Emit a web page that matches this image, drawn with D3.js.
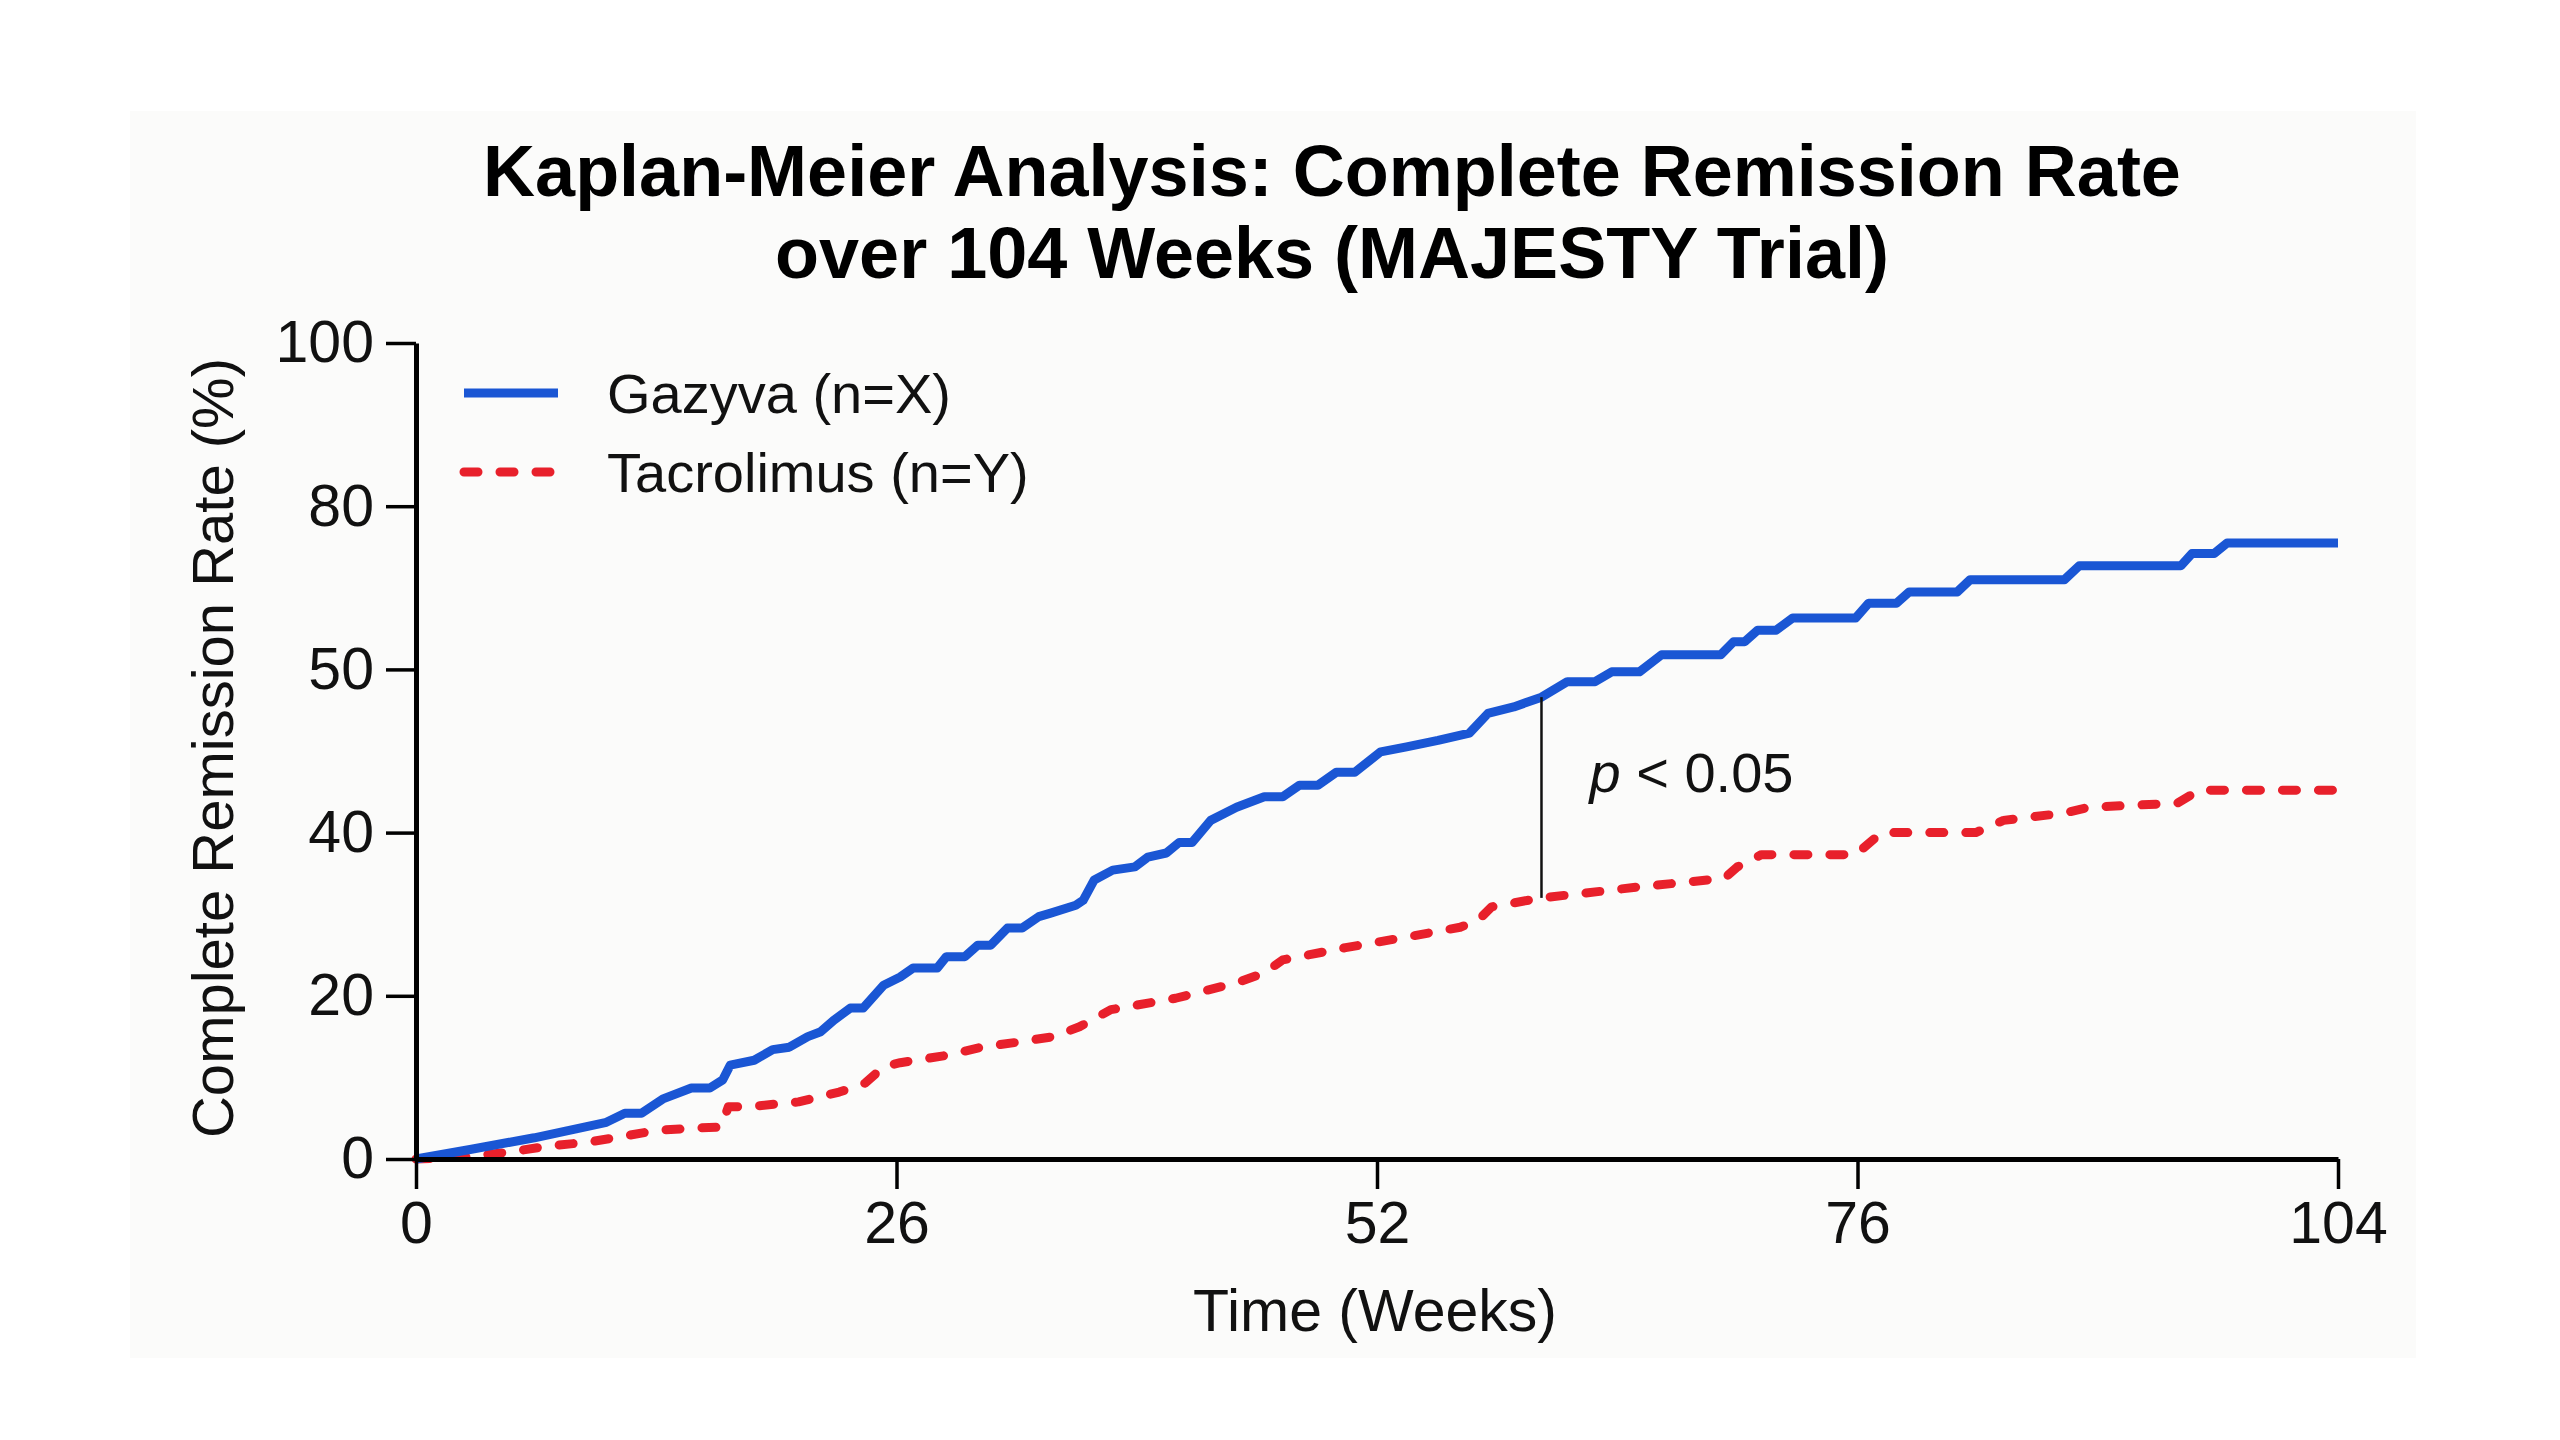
<!DOCTYPE html>
<html>
<head>
<meta charset="utf-8">
<script src="https://cdn.jsdelivr.net/npm/d3@7"></script>
<style>
  html, body { margin: 0; padding: 0; background: #ffffff; }
  svg { display: block; }
  text { font-family: "Liberation Sans", Arial, Helvetica, sans-serif; fill: #111; }
</style>
</head>
<body>
<script>
// ---------- data ----------
const titleLines = ["Kaplan-Meier Analysis: Complete Remission Rate", "over 104 Weeks (MAJESTY Trial)"];
const seriesNames = ["Gazyva (n=X)", "Tacrolimus (n=Y)"];

const gazyvaWeeks = [0, 3, 6.4, 10.3, 11.3, 12.2, 13.4, 14.9, 15.9, 16.6, 17.0, 18.3, 19.3, 20.2, 21.2, 21.9, 22.6, 23.5, 24.2, 25.3, 26.2, 26.9, 28.2, 28.7, 29.7, 30.4, 31.1, 32.0, 32.8, 33.7, 34.3, 35.7, 36.1, 36.7, 37.7, 38.9, 39.6, 40.6, 41.3, 42.0, 43.0, 44.4, 45.9, 46.9, 47.8, 48.8, 49.8, 50.8, 52.2, 53.6, 55.3, 57.0, 58.0, 59.4, 60.9, 62.3, 63.8, 64.7, 66.2, 67.4, 70.6, 71.3, 71.9, 72.6, 73.6, 74.5, 77.9, 78.6, 80.1, 80.8, 83.4, 84.1, 89.2, 90.0, 95.5, 96.1, 97.3, 98.0, 104];
const gazyvaRate  = [0, 1.2, 2.6, 4.5, 5.6, 5.6, 7.4, 8.7, 8.7, 9.7, 11.5, 12.1, 13.4, 13.7, 15.0, 15.6, 17.0, 18.5, 18.5, 21.3, 22.3, 23.4, 23.4, 24.8, 24.8, 26.2, 26.2, 28.3, 28.3, 29.7, 30.1, 31.1, 31.7, 34.2, 35.4, 35.8, 37.0, 37.5, 38.8, 38.8, 41.5, 43.1, 44.4, 44.4, 45.8, 45.8, 47.4, 47.4, 49.9, 50.5, 51.3, 52.2, 54.6, 55.4, 56.6, 58.5, 58.5, 59.7, 59.7, 61.8, 61.8, 63.4, 63.4, 64.8, 64.8, 66.3, 66.3, 68.1, 68.1, 69.5, 69.5, 71.0, 71.0, 72.7, 72.7, 74.2, 74.2, 75.5, 75.5];

const tacroWeeks = [0, 3, 5.2, 6.9, 9.4, 11.0, 13.0, 15.2, 16.5, 16.9, 18.0, 20.7, 22.9, 24.3, 25.3, 26.2, 28.7, 30.6, 32.5, 34.5, 35.9, 37.6, 41.1, 44.4, 45.9, 46.9, 50.3, 53.6, 56.5, 57.5, 58.2, 60.9, 63.3, 66.4, 70.8, 71.5, 72.8, 77.9, 79.3, 84.4, 85.9, 89.2, 90.5, 95.3, 96.5, 104];
const tacroRate  = [0, 0.3, 0.9, 1.5, 2.1, 2.7, 3.5, 3.8, 3.9, 6.4, 6.4, 7.0, 8.2, 9.3, 11.3, 11.8, 12.7, 13.7, 14.3, 15.0, 16.2, 18.3, 19.7, 21.6, 22.8, 24.4, 25.9, 27.2, 28.4, 29.3, 30.9, 32.0, 32.6, 33.4, 34.4, 35.8, 37.3, 37.3, 40.0, 40.0, 41.5, 42.4, 43.1, 43.6, 45.2, 45.2];

const xTickValues = [0, 26, 52, 78, 104];
const xTickLabels = ["0", "26", "52", "76", "104"];
const yTickValues = [0, 20, 40, 60, 80, 100];
const yTickLabels = ["0", "20", "40", "50", "80", "100"];

const pWeek = 60.9;          // week of the significance bracket
const pLow = 32.0, pHigh = 56.6;
const pLabelLevel = 45;

// ---------- layout ----------
const W = 2560, H = 1440;
const M = { left: 416, right: 2338, top: 343, bottom: 1159 };
const BLUE = "#1a56d4", RED = "#e8202b";

const svg = d3.select("body").append("svg").attr("width", W).attr("height", H);

svg.append("rect").attr("x", 0).attr("y", 0).attr("width", W).attr("height", H).attr("fill", "#ffffff");
svg.append("rect").attr("x", 130).attr("y", 111).attr("width", 2286).attr("height", 1247).attr("fill", "#fbfbfa");

const x = d3.scaleLinear().domain([0, 104]).range([M.left, M.right]);
const y = d3.scaleLinear().domain([0, 100]).range([M.bottom, M.top]);

// title
const title = svg.append("text").attr("text-anchor", "middle")
  .style("font-size", "72px").style("font-weight", "bold").style("fill", "#000");
titleLines.forEach((t, i) => {
  title.append("tspan").attr("x", 1332).attr("y", 196 + i * 82).text(t);
});

// lines
const gz = gazyvaWeeks.map((w, i) => [w, gazyvaRate[i]]);
const tc = tacroWeeks.map((w, i) => [w, tacroRate[i]]);
const line = d3.line().x(d => x(d[0])).y(d => y(d[1])).curve(d3.curveLinear);

svg.append("path").datum(tc).attr("d", line)
  .attr("fill", "none").attr("stroke", RED).attr("stroke-width", 9)
  .attr("stroke-dasharray", "14,22").attr("stroke-linecap", "round").attr("stroke-linejoin", "round");

svg.append("path").datum(gz).attr("d", line)
  .attr("fill", "none").attr("stroke", BLUE).attr("stroke-width", 9)
  .attr("stroke-linejoin", "round");

// axes
const xAxis = d3.axisBottom(x).tickValues(xTickValues)
  .tickFormat((d, i) => xTickLabels[i]).tickSize(30).tickSizeOuter(0).tickPadding(12);
const yAxis = d3.axisLeft(y).tickValues(yTickValues)
  .tickFormat((d, i) => yTickLabels[i]).tickSize(30).tickSizeOuter(0).tickPadding(12);

const gx = svg.append("g").attr("transform", `translate(0,${M.bottom})`).call(xAxis);
const gy = svg.append("g").attr("transform", `translate(${M.left},0)`).call(yAxis);
[gx, gy].forEach(g => {
  g.select(".domain").attr("stroke", "#000").attr("stroke-width", 5);
  g.selectAll(".tick line").attr("stroke", "#000").attr("stroke-width", 3.5);
  g.selectAll(".tick text").attr("fill", "#111")
    .style("font-size", "59px").style("font-family", "'Liberation Sans', Arial, sans-serif");
});

// axis titles
svg.append("text").attr("x", 1375).attr("y", 1331).attr("text-anchor", "middle")
  .style("font-size", "59px").text("Time (Weeks)");
svg.append("text").attr("transform", "translate(233,748) rotate(-90)").attr("text-anchor", "middle")
  .style("font-size", "58px").text("Complete Remission Rate (%)");

// significance bracket
svg.append("line").attr("x1", x(pWeek)).attr("x2", x(pWeek))
  .attr("y1", y(pHigh)).attr("y2", y(pLow)).attr("stroke", "#111").attr("stroke-width", 2.5);
const pt = svg.append("text").attr("x", x(pWeek) + 48).attr("y", y(pLabelLevel)).style("font-size", "56px");
pt.append("tspan").style("font-style", "italic").text("p");
pt.append("tspan").text(" < 0.05");

// legend
const legend = svg.append("g");
const colors = [BLUE, RED];
seriesNames.forEach((n, i) => {
  const ly = 393 + i * 79;
  const l = legend.append("line").attr("x1", 464).attr("x2", 558).attr("y1", ly).attr("y2", ly)
    .attr("stroke", colors[i]).attr("stroke-width", 9);
  if (i === 1) l.attr("stroke-dasharray", "14,22").attr("stroke-linecap", "round");
  legend.append("text").attr("x", 607).attr("y", ly).attr("dy", "0.35em")
    .style("font-size", "56px").text(n);
});
</script>
</body>
</html>
